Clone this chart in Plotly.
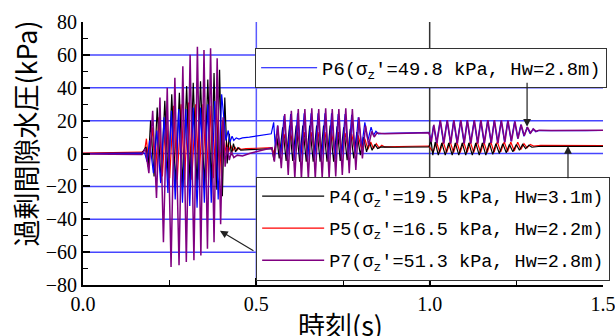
import plotly.graph_objects as go

# ---------------- data ----------------
# P4 (black)
p4_t = [0.000, 0.100, 0.170, 0.182, 0.188, 0.195, 0.205, 0.214, 0.225, 0.236, 0.246, 0.256, 0.267,
        0.278, 0.288, 0.299, 0.309, 0.318, 0.329, 0.339, 0.350, 0.360, 0.370, 0.378, 0.386, 0.394,
        0.402, 0.409, 0.416, 0.422, 0.428, 0.434, 0.440, 0.447, 0.455, 0.480, 0.520, 0.545,
        0.551, 0.558, 0.566, 0.576, 0.586, 0.596, 0.605, 0.615, 0.625, 0.634,
        0.644, 0.654, 0.664, 0.674, 0.684, 0.694, 0.704, 0.713, 0.723, 0.733,
        0.742, 0.752, 0.762, 0.771, 0.781, 0.790, 0.800, 0.809, 0.818, 0.826,
        0.834, 0.842, 0.850, 0.860, 0.900, 0.950, 0.998,
        1.004, 1.009, 1.016, 1.025, 1.035, 1.045, 1.055, 1.065, 1.074, 1.084,
        1.094, 1.104, 1.113, 1.123, 1.133, 1.143, 1.152, 1.162, 1.172, 1.182,
        1.191, 1.201, 1.211, 1.221, 1.230, 1.240, 1.250, 1.259, 1.268, 1.277,
        1.286, 1.295, 1.320, 1.400, 1.500]
p4_v = [0.0, 0.2, 0.3, 4, -8, 20, -14, 28, -17, 32, -18, 36, -19,
        37, -20, 41, -20, 43, -21, 44, -21, 45, -20, 49, -22, 51,
        -26, 34, -6, 12, -1, 6, 1, 3.5, 2, 2.3, 2.8, 3.0,
        -4, 12, -3, 16, -4.5, 17, -4.5, 17, -5, 17,
        -5, 17, -5, 17, -5, 17, -5, 17, -5, 16.5,
        -4.5, 16, -4, 15, -3, 13, -1, 10, 1, 7,
        2, 5.5, 3, 4, 3.8, 3.9, 4.0,
        8, -1, 7, -1, 6.5, -1, 6.5, -1, 6.5, -1,
        6.5, -1, 6.5, -1, 6.5, -1, 6.5, -1, 6.5, -0.5,
        6, 0, 6, 0.5, 5.5, 1, 5.5, 2, 5.5, 3,
        5, 3.8, 4.4, 4.3, 4.3]

# P5 (red)
p5_t = [0.000, 0.100, 0.170, 0.178, 0.183, 0.190, 0.200, 0.209, 0.219, 0.229, 0.240, 0.250, 0.261,
        0.272, 0.283, 0.293, 0.304, 0.314, 0.325, 0.335, 0.346, 0.356, 0.366, 0.376, 0.385, 0.394,
        0.402, 0.408, 0.414, 0.420, 0.426, 0.432, 0.438, 0.444, 0.450, 0.456, 0.470, 0.500, 0.545,
        0.550, 0.560, 0.570, 0.580, 0.590, 0.599, 0.609, 0.619, 0.629, 0.638,
        0.648, 0.658, 0.668, 0.678, 0.688, 0.698, 0.708, 0.717, 0.727, 0.737,
        0.746, 0.756, 0.766, 0.775, 0.785, 0.794, 0.804, 0.813, 0.822, 0.830,
        0.838, 0.846, 0.854, 0.862, 0.870, 0.900, 0.950, 0.998,
        1.010, 1.020, 1.029, 1.039, 1.049, 1.059, 1.069, 1.078, 1.088, 1.098,
        1.108, 1.117, 1.127, 1.137, 1.147, 1.156, 1.166, 1.176, 1.186, 1.195,
        1.205, 1.215, 1.225, 1.234, 1.244, 1.254, 1.263, 1.272, 1.281, 1.290,
        1.300, 1.320, 1.400, 1.500]
p5_v = [0.3, 0.5, 0.8, 2, 9, -8, 16, -12, 22, -14, 26, -15, 29,
        -16, 30, -16, 31, -16, 30, -16, 30, -15, 29, -15, 28, -14,
        20, -2, 7, 1, 5, 1.5, 4, 2, 3.5, 2.5, 3, 3.2, 3.6,
        0, 9, 0.5, 12, 0, 13, 0, 13, 0, 13,
        0, 13, 0, 13, 0, 13, 0, 13, 0, 13,
        0.5, 12.5, 1, 12, 1.5, 11, 2, 9, 2.5, 7,
        3, 6, 3.5, 5, 4, 4.3, 4.4, 4.5,
        0.8, 7, 0.5, 7.2, 0.5, 7.2, 0.5, 7.2, 0.5, 7.2,
        0.5, 7.2, 0.5, 7.2, 0.5, 7.2, 0.5, 7.2, 0.7, 7.2,
        1, 7, 1.2, 7, 1.5, 6.8, 2.5, 6, 3.5, 5.5,
        4.5, 5, 4.8, 4.8]

# P6 (blue)
p6_t = [0.000, 0.100, 0.178, 0.185, 0.192, 0.203, 0.213, 0.224, 0.234, 0.245,
        0.255, 0.266, 0.276, 0.287, 0.297, 0.308, 0.318, 0.329, 0.339, 0.350,
        0.360, 0.370, 0.380, 0.390, 0.400, 0.412, 0.419, 0.424, 0.430, 0.435,
        0.442, 0.450, 0.460, 0.480, 0.500, 0.520, 0.543,
        0.550, 0.555, 0.561, 0.570, 0.580, 0.590, 0.599, 0.609, 0.619, 0.628,
        0.638, 0.648, 0.658, 0.668, 0.678, 0.688, 0.698, 0.708, 0.717, 0.727,
        0.736, 0.746, 0.756, 0.766, 0.775, 0.785, 0.794, 0.804, 0.813, 0.822,
        0.831, 0.838, 0.845, 0.852, 0.870, 0.900, 0.950, 0.998,
        1.004, 1.011, 1.020, 1.030, 1.040, 1.050, 1.060, 1.069, 1.079, 1.089,
        1.099, 1.108, 1.118, 1.128, 1.138, 1.147, 1.157, 1.167, 1.177, 1.186,
        1.196, 1.206, 1.216, 1.225, 1.235, 1.245, 1.254, 1.263, 1.272, 1.281,
        1.290, 1.298, 1.306, 1.315, 1.350, 1.400, 1.450, 1.500]
p6_v = [0, 0, 0.2, -5, 8, -12, 14, -18, 22, -24,
        26, -28, 27, -30, 27, -32, 28, -33, 28, -30,
        30, -30, 32, -28, 36, 8, 14, 7, 10.5, 8,
        9.5, 8.8, 9.5, 10, 10.6, 11.2, 12,
        19, 3, 17, -2, 23, -3, 24, -4, 24.5, -4,
        24.5, -4, 24.5, -4, 24.5, -4, 24.5, -3.5, 24.5, -3.5,
        24, -3, 24, -2, 23.5, 0, 22, 4, 19, 8,
        16, 11, 13.5, 12, 12.3, 12.3, 12.5, 12.8,
        7.5, 17, 6.5, 20, 6.3, 20, 6.3, 20, 6.3, 20,
        6.3, 20, 6.3, 20, 6.3, 20, 6.3, 20, 6.5, 20,
        6.5, 20, 7, 20, 7.5, 19.5, 9, 17.5, 10.5, 16,
        12, 14.8, 13.2, 14, 13.8, 13.9, 13.9, 14]

# P7 (purple)
p7_t = [0.000, 0.100, 0.170, 0.180, 0.190, 0.201, 0.212, 0.222, 0.232, 0.243,
        0.254, 0.265, 0.277, 0.288, 0.298, 0.309, 0.320, 0.330, 0.340, 0.349,
        0.359, 0.368, 0.378, 0.387, 0.397, 0.404, 0.410, 0.416, 0.422, 0.428,
        0.435, 0.445, 0.460, 0.480, 0.500, 0.520, 0.545,
        0.552, 0.562, 0.572, 0.582, 0.592, 0.601, 0.611, 0.621, 0.630, 0.640,
        0.650, 0.660, 0.670, 0.680, 0.690, 0.700, 0.710, 0.719, 0.729, 0.738,
        0.748, 0.758, 0.768, 0.777, 0.787, 0.796, 0.806, 0.815, 0.824, 0.833,
        0.840, 0.848, 0.870, 0.900, 0.950, 0.998,
        1.005, 1.012, 1.021, 1.031, 1.041, 1.051, 1.061, 1.070, 1.080, 1.090,
        1.100, 1.109, 1.119, 1.129, 1.139, 1.148, 1.158, 1.168, 1.178, 1.187,
        1.197, 1.207, 1.217, 1.226, 1.236, 1.246, 1.255, 1.264, 1.273, 1.282,
        1.291, 1.299, 1.307, 1.316, 1.350, 1.400, 1.450, 1.500]
p7_v = [-0.3, -0.4, -0.6, 3, -12, 26, -27, 34, -54, 40,
        -69, 46, -68, 53, -66, 60, -65, 65, -62, 63,
        -58, 64, -54, 58, -43, 22, -8, 4, -4, 1,
        -2.5, -1, -1.5, 0, 1, 2.2, 3.5,
        -5, 17, -9, 24, -13, 26, -15, 27, -15.5, 27,
        -15.5, 27.5, -15.5, 27, -15, 27.5, -15, 27, -14, 27,
        -13, 27.5, -12, 27, -10, 22, -3, 17, 5, 13.5,
        10, 12.5, 12, 12.2, 12.4, 12.6,
        7, 17.5, 6.2, 20.3, 6.1, 20.3, 6.1, 20.3, 6.1, 20.3,
        6.1, 20.3, 6.1, 20.3, 6.1, 20.3, 6.1, 20.3, 6.3, 20.3,
        6.3, 20.2, 6.8, 20, 7.4, 19.5, 9, 17.5, 10.8, 16,
        12.5, 15, 13.5, 14.2, 14, 14.1, 14.2, 14.2]

for a, b in [(p4_t, p4_v), (p5_t, p5_v), (p6_t, p6_v), (p7_t, p7_v)]:
    assert len(a) == len(b), (len(a), len(b))

series_names = {
    "P4": "P4(σ<sub>z</sub>'=19.5 kPa, Hw=3.1m)",
    "P5": "P5(σ<sub>z</sub>'=16.5 kPa, Hw=2.2m)",
    "P6": "P6(σ<sub>z</sub>'=49.8 kPa, Hw=2.8m)",
    "P7": "P7(σ<sub>z</sub>'=51.3 kPa, Hw=2.8m)",
}
series_data = {"P4": (p4_t, p4_v), "P5": (p5_t, p5_v), "P6": (p6_t, p6_v), "P7": (p7_t, p7_v)}
series_colors = {"P4": "#000000", "P5": "#ff0000", "P6": "#0000ff", "P7": "#800080"}
series_legend = {"P4": "legend2", "P5": "legend2", "P6": "legend", "P7": "legend2"}
series_width = {"P4": 1.2, "P5": 1.2, "P6": 1.2, "P7": 1.5}
legend_rank = {"P4": 1, "P5": 2, "P6": 3, "P7": 4}
draw_order = ["P5", "P4", "P6", "P7"]

x_ticks = [0.0, 0.5, 1.0, 1.5]
y_grid = [-60, -40, -20, 0, 20, 40, 60]

x_title = "時刻(s)"
y_title = "過剰間隙水圧(kPa)"

# ---------------- figure ----------------
fig = go.Figure()
for k in draw_order:
    tt, vv = series_data[k]
    fig.add_trace(go.Scatter(x=tt, y=vv, mode="lines", name=series_names[k],
                             line=dict(color=series_colors[k], width=series_width[k]),
                             legend=series_legend[k], legendgroup=k,
                             legendrank=legend_rank[k]))

shapes = []
for g in y_grid:
    shapes.append(dict(type="line", xref="paper", x0=0, x1=1, yref="y", y0=g, y1=g,
                       line=dict(color="rgb(70,70,255)", width=1.5), layer="below"))
shapes.append(dict(type="line", xref="x", x0=0.5, x1=0.5, yref="paper", y0=0, y1=1,
                   line=dict(color="rgb(90,90,255)", width=1.5), layer="below"))
shapes.append(dict(type="line", xref="x", x0=1.0, x1=1.0, yref="paper", y0=0, y1=1,
                   line=dict(color="#333333", width=1.5), layer="below"))

arrow = dict(showarrow=True, arrowhead=2, arrowsize=1.3, arrowwidth=1.2,
             arrowcolor="#222222", axref="x", ayref="y", text="", xref="x", yref="y")
annotations = [
    dict(x=1.281, y=16.3, ax=1.281, ay=44.0, **arrow),
    dict(x=1.399, y=4.6, ax=1.399, ay=-16.0, **arrow),
    dict(x=0.395, y=-47.0, ax=0.496, ay=-59.7, **arrow),
    dict(text=y_title, xref="paper", yref="paper", x=-0.11, y=0.575, textangle=-90,
         showarrow=False, font=dict(family="Noto Sans CJK JP", size=27, color="#000"),
         xanchor="center", yanchor="middle"),
    dict(text=x_title, xref="paper", yref="paper", x=0.495, y=-0.15,
         showarrow=False, font=dict(family="Noto Sans CJK JP", size=27, color="#000"),
         xanchor="center", yanchor="middle"),
]

fig.update_layout(
    width=615, height=336,
    margin=dict(l=83, r=12, t=22, b=51, autoexpand=False),
    paper_bgcolor="white", plot_bgcolor="white",
    shapes=shapes, annotations=annotations,
    xaxis=dict(range=[0, 1.5], tickvals=x_ticks, tickformat=".1f", automargin=False,
               ticks="inside", ticklen=7, tickwidth=1.5, tickcolor="black",
               ticklabeloverflow="allow",
               minor=dict(dtick=0.25, ticks="inside", ticklen=5, tickcolor="black", tickwidth=1.2),
               showline=True, linecolor="black", linewidth=2, mirror=False,
               showgrid=False, zeroline=False,
               tickfont=dict(family="Liberation Serif", size=20, color="black")),
    yaxis=dict(range=[-80, 80], dtick=20, tick0=0, automargin=False,
               ticks="inside", ticklen=7, tickwidth=1.5, tickcolor="black",
               ticklabeloverflow="allow",
               minor=dict(dtick=10, ticks="inside", ticklen=5, tickcolor="black", tickwidth=1.2),
               showline=True, linecolor="black", linewidth=2, mirror=False,
               showgrid=False, zeroline=False, ticklabelstandoff=0,
               tickfont=dict(family="Liberation Serif", size=20, color="black")),
    legend=dict(x=0.331, y=0.901, xanchor="left", yanchor="top",
                bgcolor="white", bordercolor="#333333", borderwidth=1,
                font=dict(family="Liberation Mono", size=18.8, color="black"),
                itemwidth=56),
    legend2=dict(x=0.333, y=0.412, xanchor="left", yanchor="top",
                 bgcolor="white", bordercolor="#333333", borderwidth=1,
                 font=dict(family="Liberation Mono", size=18.5, color="black"),
                 itemwidth=62, tracegroupgap=5),
    showlegend=True,
)

fig.write_html("out.html",
               config={"displayModeBar": False},
               post_script="document.body.style.margin='0';"
                           "document.body.style.overflow='hidden';")
